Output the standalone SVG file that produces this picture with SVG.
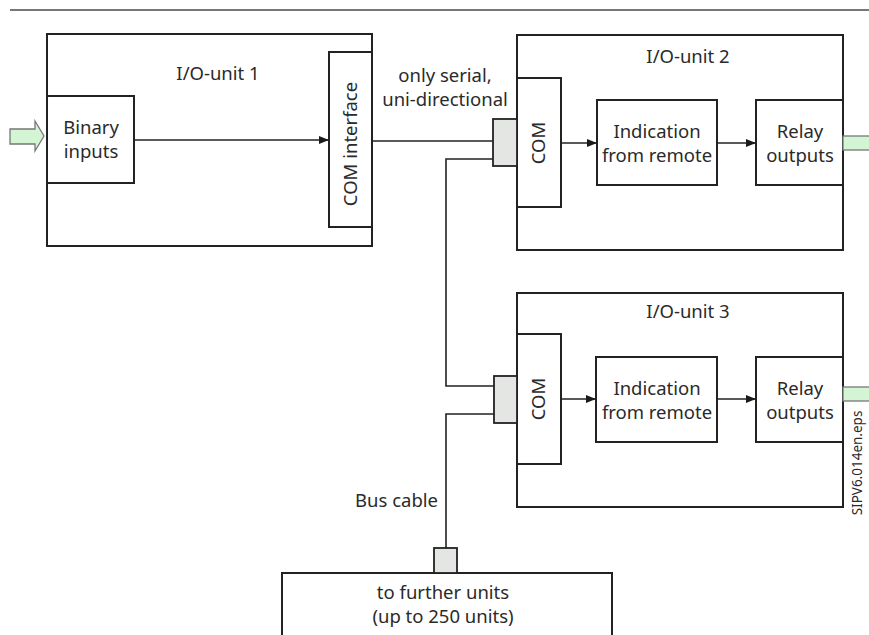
<svg xmlns="http://www.w3.org/2000/svg" width="869" height="635" viewBox="0 0 869 635">
<defs>
<marker id="ah" markerWidth="10" markerHeight="8" refX="10" refY="4" orient="auto" markerUnits="userSpaceOnUse">
<path d="M0,0 L10,4 L0,8 Z" fill="#1a1a1a"/>
</marker>
<style>
.box{fill:#fff;stroke:#222;stroke-width:2}
.con{fill:#e4e6e4;stroke:#222;stroke-width:1.8}
.line{fill:none;stroke:#222;stroke-width:1.6}
.grn{fill:#d3f5d3;stroke:#777;stroke-width:1.3}
text{font-family:"Noto Sans","Open Sans","DejaVu Sans",sans-serif;font-size:18.5px;fill:#2a2a2a;text-anchor:middle}
.small{font-size:13.5px}
</style>
</defs>
<rect width="869" height="635" fill="#fff"/>
<line x1="10" y1="10" x2="869" y2="10" stroke="#777" stroke-width="2"/>

<g id="input-arrow">
<path class="grn" d="M10,129 L35,129 L35,121 L44,136 L35,151 L35,144 L10,144 Z"/>
</g>

<g id="io-unit-1">
<rect class="box" x="47" y="34" width="325" height="212"/>
<text x="218" y="80">I/O-unit 1</text>
</g>
<g id="binary-inputs">
<rect class="box" x="47" y="96" width="87" height="87"/>
<text x="91" y="134">Binary</text>
<text x="91" y="158">inputs</text>
</g>
<g id="com-interface">
<rect class="box" x="329" y="52" width="43" height="175"/>
<text transform="translate(357,144) rotate(-90)">COM interface</text>
</g>

<g id="io-unit-2">
<rect class="box" x="517" y="35" width="326" height="215"/>
<text x="688" y="63">I/O-unit 2</text>
</g>
<g id="com-2">
<rect class="box" x="517" y="78" width="44" height="129"/>
<text transform="translate(545,143) rotate(-90)">COM</text>
</g>
<g id="indication-2">
<rect class="box" x="597" y="100" width="120" height="85"/>
<text x="657" y="138">Indication</text>
<text x="657" y="162">from remote</text>
</g>
<g id="relay-2">
<rect class="box" x="756" y="100" width="87" height="85"/>
<text x="800" y="138">Relay</text>
<text x="800" y="162">outputs</text>
</g>
<g id="output-2">
<rect class="grn" x="843" y="136" width="30" height="14"/>
</g>
<g id="connector-2">
<rect class="con" x="493" y="119" width="24" height="47"/>
</g>

<g id="io-unit-3">
<rect class="box" x="517" y="293" width="326" height="214"/>
<text x="688" y="318">I/O-unit 3</text>
</g>
<g id="com-3">
<rect class="box" x="517" y="334" width="44" height="130"/>
<text transform="translate(545,399) rotate(-90)">COM</text>
</g>
<g id="indication-3">
<rect class="box" x="596" y="357" width="121" height="85"/>
<text x="657" y="395">Indication</text>
<text x="657" y="419">from remote</text>
</g>
<g id="relay-3">
<rect class="box" x="756" y="357" width="87" height="85"/>
<text x="800" y="395">Relay</text>
<text x="800" y="419">outputs</text>
</g>
<g id="output-3">
<rect class="grn" x="843" y="387" width="30" height="14"/>
</g>
<g id="connector-3">
<rect class="con" x="494" y="376" width="23" height="47"/>
</g>

<g id="further-units">
<rect class="box" x="282" y="573" width="330" height="80"/>
<text x="443" y="599">to further units</text>
<text x="443" y="623">(up to 250 units)</text>
</g>
<g id="connector-4">
<rect class="con" x="434" y="548" width="23" height="25"/>
</g>

<g id="connectors">
<line class="line" x1="134" y1="140" x2="329" y2="140" marker-end="url(#ah)"/>
<line class="line" x1="372" y1="141" x2="493" y2="141"/>
<polyline class="line" points="493,159 446,159 446,386 494,386"/>
<polyline class="line" points="494,414 446,414 446,548"/>
<line class="line" x1="561" y1="143" x2="597" y2="143" marker-end="url(#ah)"/>
<line class="line" x1="717" y1="143" x2="756" y2="143" marker-end="url(#ah)"/>
<line class="line" x1="561" y1="399" x2="596" y2="399" marker-end="url(#ah)"/>
<line class="line" x1="717" y1="399" x2="756" y2="399" marker-end="url(#ah)"/>
</g>

<g id="labels">
<text x="445" y="82">only serial,</text>
<text x="445" y="106">uni-directional</text>
<text x="438" y="507" style="text-anchor:end">Bus cable</text>
<text class="small" transform="translate(862,463) rotate(-90)">SIPV6.014en.eps</text>
</g>
</svg>
